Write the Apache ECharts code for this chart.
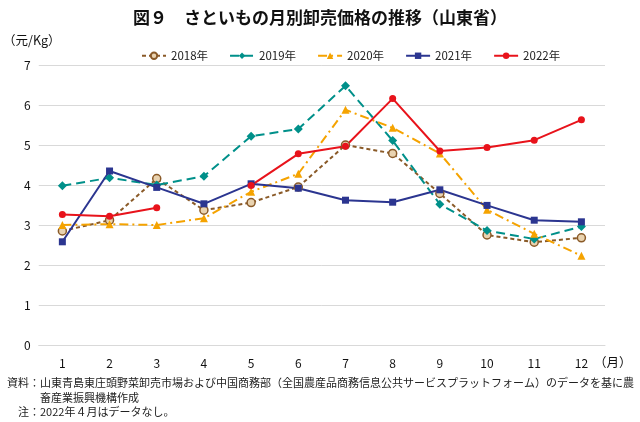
<!DOCTYPE html>
<html><head><meta charset="utf-8">
<script src="https://cdn.jsdelivr.net/npm/echarts@6/dist/echarts.min.js"></script>
<style>html,body{margin:0;padding:0;background:#fff}#c{width:640px;height:422px}</style>
</head><body><div id="c"></div>
<script>
const months = ['1','2','3','4','5','6','7','8','9','10','11','12'];
const yTicks = [0,1,2,3,4,5,6,7];
const s2018 = [2.85,3.12,4.16,3.37,3.56,3.95,5.0,4.79,3.79,2.75,2.57,2.68];
const s2019 = [3.98,4.18,4.0,4.22,5.22,5.4,6.48,5.11,3.52,2.86,2.65,2.96];
const s2020 = [3.0,3.02,3.0,3.17,3.83,4.28,5.88,5.43,4.79,3.38,2.78,2.23];
const s2021 = [2.58,4.35,3.94,3.53,4.03,3.92,3.62,3.57,3.88,3.49,3.12,3.08];
const s2022 = [3.26,3.22,3.43,null,3.99,4.78,4.97,6.16,4.85,4.94,5.12,5.63];
const seriesNames = ['2018年','2019年','2020年','2021年','2022年'];
const FONT = '"Noto Sans CJK JP", "Noto Sans", sans-serif';

const chart = echarts.init(document.getElementById('c'), null, {renderer:'canvas'});
function mk(name, data, color, lineType, symbol, size, fill){
  return {
    name, type:'line', data, connectNulls:false,
    symbol, symbolSize:size,
    lineStyle:{color, width:2, type:lineType},
    itemStyle:{color: fill || color, borderColor: color, borderWidth: fill?1.5:0},
    emphasis:{disabled:true}, animation:false
  };
}
chart.setOption({
  animation:false,
  title:{text:'図９　さといもの月別卸売価格の推移（山東省）', left:'center', top:4,
    textStyle:{fontFamily:FONT, fontSize:17, fontWeight:'bold', color:'#111'}},
  legend:{top:45, left:136, itemGap:21, itemWidth:24, itemHeight:8,
    textStyle:{fontFamily:FONT, fontSize:11.5, color:'#222'},
    data:seriesNames},
  grid:{left:37, right:35, top:65, bottom:77},
  xAxis:{type:'category', data:months, boundaryGap:true,
    axisLine:{show:true, lineStyle:{color:'#d9d9d9', width:1}},
    axisTick:{show:false},
    axisLabel:{fontFamily:FONT, fontSize:12, color:'#111', margin:12},
    name:'（月）', nameLocation:'end', nameGap:-14,
    nameTextStyle:{fontFamily:FONT, fontSize:12.5, color:'#111', align:'left', verticalAlign:'top', padding:[11,0,0,0]}},
  yAxis:{type:'value', min:0, max:7, interval:1,
    axisLine:{show:false}, axisTick:{show:false},
    splitLine:{lineStyle:{color:'#d9d9d9', width:1}},
    axisLabel:{fontFamily:FONT, fontSize:12, color:'#111', margin:8},
    name:'（元/Kg）', nameLocation:'end', nameGap:18,
    nameTextStyle:{fontFamily:FONT, fontSize:12.5, color:'#111', align:'center', padding:[0,0,0,-14]}},
  series:[
    mk(seriesNames[0], s2018, '#8a5a28', [4,3], 'circle', 8, '#e9d3b0'),
    mk(seriesNames[1], s2019, '#00908a', [9,5], 'diamond', 9),
    mk(seriesNames[2], s2020, '#f5a300', [9,4,2,4], 'triangle', 8),
    mk(seriesNames[3], s2021, '#2b3590', 'solid', 'rect', 7),
    mk(seriesNames[4], s2022, '#e8131b', 'solid', 'circle', 7)
  ],
  graphic:[
    {type:'text', left:7, top:377, style:{text:'資料：山東青島東庄頭野菜卸売市場および中国商務部（全国農産品商務信息公共サービスプラットフォーム）のデータを基に農', fontFamily:FONT, fontSize:11, fill:'#222'}},
    {type:'text', left:40, top:392, style:{text:'畜産業振興機構作成', fontFamily:FONT, fontSize:11, fill:'#222'}},
    {type:'text', left:18, top:406, style:{text:'注：2022年４月はデータなし。', fontFamily:FONT, fontSize:11, fill:'#222'}}
  ]
});
</script></body></html>
